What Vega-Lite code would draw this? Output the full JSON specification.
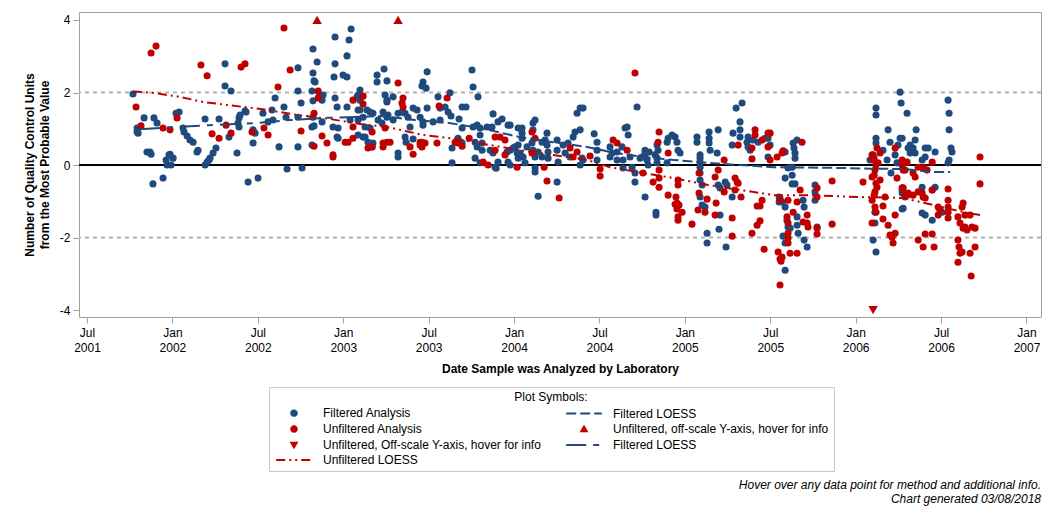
{
"$schema": "https://vega.github.io/schema/vega-lite/v6.json",
"width": 962,
"height": 305,
"autosize": {"type": "none"},
"padding": {"left": 79, "top": 12, "right": 15, "bottom": 201},
"background": "white",
"config": {
  "font": "Liberation Sans",
  "view": {"stroke": "#a0a0a0", "strokeWidth": 1},
  "axis": {"labelFont": "Liberation Sans", "labelFontSize": 12, "labelColor": "#000", "tickColor": "#a0a0a0", "domain": false, "grid": false, "titleFont": "Liberation Sans", "titleFontSize": 12, "titleFontWeight": "bold", "titleColor": "#000"}
},
"title": {"text": ["Hover over any data point for method and additional info.", "Chart generated 03/08/2018"], "orient": "bottom", "anchor": "end", "frame": "group", "fontSize": 12, "fontStyle": "italic", "fontWeight": "normal", "color": "#000", "font": "Liberation Sans", "offset": 8, "lineHeight": 14},
"datasets": {
"refs": [{"v": 2}, {"v": -2}],
"zero": [{"v": 0}],
"filtered": [
{"t":2001.769,"v":1.96},{"t":2001.793,"v":0.91},{"t":2001.793,"v":1.02},{"t":2001.799,"v":0.88},{"t":2001.834,"v":1.30},{"t":2001.851,"v":0.36},{"t":2001.869,"v":0.36},{"t":2001.875,"v":0.30},{"t":2001.886,"v":-0.52},{"t":2001.892,"v":1.30},{"t":2001.910,"v":1.16},{"t":2001.945,"v":-0.36},{"t":2001.963,"v":0.14},{"t":2001.968,"v":0.00},{"t":2001.986,"v":0.30},{"t":2001.992,"v":0.00},{"t":2002.004,"v":0.19},{"t":2001.980,"v":0.28},{"t":2002.021,"v":1.43},{"t":2002.039,"v":1.46},{"t":2002.062,"v":1.02},{"t":2002.068,"v":0.91},{"t":2002.086,"v":0.80},{"t":2002.103,"v":0.69},{"t":2002.121,"v":0.63},{"t":2002.144,"v":0.36},{"t":2002.150,"v":0.41},{"t":2002.191,"v":0.00},{"t":2002.203,"v":0.08},{"t":2002.214,"v":0.14},{"t":2002.220,"v":0.19},{"t":2002.238,"v":0.33},{"t":2002.255,"v":0.47},{"t":2002.191,"v":1.27},{"t":2002.273,"v":1.27},{"t":2002.308,"v":2.79},{"t":2002.308,"v":2.18},{"t":2002.331,"v":0.77},{"t":2002.343,"v":2.04},{"t":2002.378,"v":0.33},{"t":2002.390,"v":1.30},{"t":2002.390,"v":1.05},{"t":2002.396,"v":1.38},{"t":2002.384,"v":1.16},{"t":2002.425,"v":1.49},{"t":2002.431,"v":1.46},{"t":2002.443,"v":-0.47},{"t":2002.472,"v":0.61},{"t":2002.472,"v":0.97},{"t":2002.484,"v":0.88},{"t":2002.501,"v":-0.36},{"t":2002.530,"v":1.43},{"t":2002.560,"v":1.19},{"t":2002.589,"v":1.24},{"t":2002.583,"v":1.52},{"t":2002.601,"v":1.85},{"t":2002.624,"v":0.50},{"t":2002.653,"v":1.60},{"t":2002.665,"v":1.32},{"t":2002.671,"v":-0.11},{"t":2002.735,"v":2.04},{"t":2002.735,"v":2.68},{"t":2002.735,"v":0.50},{"t":2002.735,"v":1.32},{"t":2002.753,"v":1.71},{"t":2002.759,"v":-0.08},{"t":2002.817,"v":2.04},{"t":2002.817,"v":1.05},{"t":2002.817,"v":0.55},{"t":2002.823,"v":3.20},{"t":2002.823,"v":2.54},{"t":2002.823,"v":1.77},{"t":2002.823,"v":1.32},{"t":2002.829,"v":1.08},{"t":2002.829,"v":2.32},{"t":2002.835,"v":2.29},{"t":2002.847,"v":2.84},{"t":2002.858,"v":1.88},{"t":2002.876,"v":1.19},{"t":2002.876,"v":1.79},{"t":2002.882,"v":1.93},{"t":2002.952,"v":3.53},{"t":2002.952,"v":2.79},{"t":2002.946,"v":2.43},{"t":2002.952,"v":1.85},{"t":2002.964,"v":1.60},{"t":2002.940,"v":1.05},{"t":2002.964,"v":0.77},{"t":2002.970,"v":1.02},{"t":2002.970,"v":0.74},{"t":2003.022,"v":3.01},{"t":2003.034,"v":3.45},{"t":2003.046,"v":3.75},{"t":2002.999,"v":2.48},{"t":2003.022,"v":2.43},{"t":2003.022,"v":1.60},{"t":2003.040,"v":1.24},{"t":2003.081,"v":1.88},{"t":2003.087,"v":1.52},{"t":2003.087,"v":1.24},{"t":2003.087,"v":0.83},{"t":2003.128,"v":0.77},{"t":2003.145,"v":0.63},{"t":2003.098,"v":2.07},{"t":2003.087,"v":1.93},{"t":2003.098,"v":1.79},{"t":2003.098,"v":1.52},{"t":2003.116,"v":1.32},{"t":2003.116,"v":0.77},{"t":2003.139,"v":1.52},{"t":2003.157,"v":1.46},{"t":2003.128,"v":1.05},{"t":2003.157,"v":1.02},{"t":2003.174,"v":0.61},{"t":2003.169,"v":0.50},{"t":2003.198,"v":2.48},{"t":2003.198,"v":2.29},{"t":2003.174,"v":1.43},{"t":2003.204,"v":1.24},{"t":2003.233,"v":1.46},{"t":2003.245,"v":1.93},{"t":2003.256,"v":1.79},{"t":2003.239,"v":2.65},{"t":2003.256,"v":2.32},{"t":2003.256,"v":1.32},{"t":2003.227,"v":1.16},
{"t":2003.292,"v":1.88},{"t":2003.256,"v":1.74},{"t":2003.262,"v":1.38},{"t":2003.292,"v":1.24},{"t":2003.321,"v":1.43},{"t":2003.344,"v":1.46},{"t":2003.362,"v":1.43},{"t":2003.379,"v":1.32},{"t":2003.409,"v":1.57},{"t":2003.432,"v":1.52},{"t":2003.450,"v":1.32},{"t":2003.467,"v":1.19},{"t":2003.467,"v":1.10},{"t":2003.491,"v":1.57},{"t":2003.467,"v":2.29},{"t":2003.461,"v":2.18},{"t":2003.485,"v":2.12},{"t":2003.491,"v":2.57},{"t":2003.555,"v":1.88},{"t":2003.567,"v":1.57},{"t":2003.596,"v":1.60},{"t":2003.614,"v":1.46},{"t":2003.625,"v":1.99},{"t":2003.631,"v":1.35},{"t":2003.567,"v":1.24},{"t":2003.526,"v":1.19},{"t":2003.678,"v":1.27},{"t":2003.696,"v":1.60},{"t":2003.719,"v":1.60},{"t":2003.696,"v":1.02},{"t":2003.754,"v":2.62},{"t":2003.760,"v":2.15},{"t":2003.789,"v":1.88},{"t":2003.760,"v":1.05},{"t":2003.784,"v":1.10},{"t":2003.801,"v":1.02},{"t":2003.842,"v":1.05},{"t":2003.871,"v":1.05},{"t":2003.877,"v":1.41},{"t":2003.906,"v":1.19},{"t":2003.930,"v":1.27},{"t":2003.965,"v":1.10},{"t":2004.024,"v":1.02},{"t":2003.391,"v":1.05},{"t":2003.409,"v":0.72},{"t":2003.362,"v":0.77},{"t":2003.368,"v":0.63},{"t":2003.321,"v":0.33},{"t":2003.321,"v":0.22},{"t":2003.637,"v":0.47},{"t":2003.637,"v":0.06},{"t":2003.672,"v":0.74},{"t":2003.696,"v":0.61},{"t":2003.772,"v":0.63},{"t":2003.784,"v":0.50},{"t":2003.801,"v":0.83},{"t":2003.813,"v":0.61},{"t":2003.813,"v":0.41},{"t":2003.772,"v":0.19},{"t":2003.860,"v":0.41},{"t":2003.877,"v":0.33},{"t":2003.801,"v":0.06},{"t":2003.906,"v":0.08},{"t":2003.889,"v":-0.06},{"t":2003.895,"v":-0.09},{"t":2003.959,"v":0.36},{"t":2003.965,"v":0.08},{"t":2003.977,"v":0.00},{"t":2004.006,"v":0.50},{"t":2004.018,"v":0.33},{"t":2004.024,"v":0.19},{"t":2003.461,"v":0.63},
{"t":2003.977,"v":1.10},{"t":2004.047,"v":1.02},{"t":2004.047,"v":0.88},{"t":2003.977,"v":0.41},{"t":2003.994,"v":0.47},{"t":2004.024,"v":0.55},{"t":2004.035,"v":0.33},{"t":2004.053,"v":0.22},{"t":2004.047,"v":0.74},{"t":2004.076,"v":0.50},{"t":2004.064,"v":0.06},{"t":2004.105,"v":0.61},{"t":2004.111,"v":1.16},{"t":2004.123,"v":1.24},{"t":2004.111,"v":0.97},{"t":2004.111,"v":0.41},{"t":2004.123,"v":0.22},{"t":2004.123,"v":-0.08},{"t":2004.123,"v":-0.19},{"t":2004.141,"v":0.36},{"t":2004.164,"v":0.22},{"t":2004.164,"v":0.63},{"t":2004.182,"v":0.69},{"t":2004.193,"v":0.88},{"t":2004.193,"v":0.55},{"t":2004.199,"v":0.36},{"t":2004.199,"v":0.19},{"t":2004.252,"v":0.69},{"t":2004.252,"v":0.41},{"t":2004.258,"v":0.08},{"t":2004.252,"v":-0.47},{"t":2004.287,"v":0.55},{"t":2004.299,"v":0.33},{"t":2004.316,"v":0.61},{"t":2004.328,"v":0.22},{"t":2004.346,"v":0.77},{"t":2004.357,"v":0.91},{"t":2004.369,"v":1.43},{"t":2004.387,"v":1.57},{"t":2004.404,"v":1.57},{"t":2004.387,"v":0.97},{"t":2004.398,"v":0.19},{"t":2004.387,"v":0.00},{"t":2004.404,"v":0.14},{"t":2004.469,"v":0.86},{"t":2004.486,"v":0.63},{"t":2004.486,"v":0.41},{"t":2004.486,"v":0.14},{"t":2004.562,"v":0.50},{"t":2004.574,"v":0.33},{"t":2004.562,"v":0.22},{"t":2004.603,"v":0.36},{"t":2004.603,"v":0.14},{"t":2004.632,"v":0.50},{"t":2004.638,"v":0.14},{"t":2004.638,"v":-0.08},{"t":2004.650,"v":1.02},{"t":2004.662,"v":1.05},{"t":2004.668,"v":0.83},{"t":2004.679,"v":0.22},{"t":2004.691,"v":-0.06},{"t":2004.708,"v":-0.22},{"t":2004.708,"v":-0.47},{"t":2004.767,"v":0.33},{"t":2004.779,"v":0.14},{"t":2004.767,"v":-0.88},{"t":2004.720,"v":1.60},{"t":2004.785,"v":0.00},{"t":2004.750,"v":0.22},{"t":2004.791,"v":0.36},{"t":2004.141,"v":-0.86},
{"t":2004.767,"v":0.41},{"t":2004.767,"v":0.28},{"t":2004.738,"v":0.19},{"t":2004.837,"v":0.55},{"t":2004.843,"v":0.41},{"t":2004.826,"v":0.28},{"t":2004.837,"v":0.19},{"t":2004.837,"v":0.06},{"t":2004.831,"v":-1.30},{"t":2004.831,"v":-1.38},{"t":2004.896,"v":0.63},{"t":2004.902,"v":0.74},{"t":2004.925,"v":0.83},{"t":2004.943,"v":0.77},{"t":2004.954,"v":0.63},{"t":2004.960,"v":0.41},{"t":2004.972,"v":0.33},{"t":2004.896,"v":0.06},{"t":2005.071,"v":0.77},{"t":2005.071,"v":0.63},{"t":2005.089,"v":0.28},{"t":2005.089,"v":0.19},{"t":2005.089,"v":0.08},{"t":2005.089,"v":-0.06},{"t":2005.089,"v":-0.22},{"t":2005.089,"v":-0.41},{"t":2005.101,"v":-0.55},{"t":2005.089,"v":-0.88},{"t":2005.101,"v":-1.10},{"t":2005.118,"v":-1.16},{"t":2005.130,"v":-1.88},{"t":2005.130,"v":-2.15},{"t":2005.142,"v":0.91},{"t":2005.142,"v":0.74},{"t":2005.142,"v":0.61},{"t":2005.148,"v":0.41},{"t":2005.195,"v":0.97},{"t":2005.189,"v":0.33},{"t":2005.195,"v":-0.55},{"t":2005.206,"v":-0.63},{"t":2005.206,"v":-1.38},{"t":2005.200,"v":-1.77},{"t":2005.236,"v":-0.47},{"t":2005.247,"v":-0.55},{"t":2005.277,"v":-0.88},{"t":2005.241,"v":-2.26},{"t":2005.277,"v":0.55},{"t":2005.282,"v":0.88},{"t":2005.300,"v":1.57},{"t":2005.335,"v":1.71},{"t":2005.323,"v":1.19},{"t":2005.323,"v":0.97},{"t":2005.323,"v":0.77},{"t":2005.364,"v":0.63},{"t":2005.370,"v":0.77},{"t":2005.370,"v":0.50},{"t":2005.382,"v":0.41},{"t":2005.399,"v":0.69},{"t":2005.429,"v":0.63},{"t":2005.470,"v":0.74},{"t":2005.487,"v":0.74},{"t":2005.487,"v":0.22},{"t":2005.552,"v":-0.88},{"t":2005.552,"v":-1.02},
{"t":2005.499,"v":0.55},{"t":2005.587,"v":0.36},{"t":2005.587,"v":-0.36},{"t":2005.604,"v":-0.08},{"t":2005.628,"v":-0.06},{"t":2005.628,"v":-0.28},{"t":2005.628,"v":-0.52},{"t":2005.645,"v":-0.52},{"t":2005.634,"v":0.61},{"t":2005.639,"v":0.47},{"t":2005.645,"v":0.33},{"t":2005.645,"v":0.19},{"t":2005.657,"v":0.69},{"t":2005.557,"v":-0.91},{"t":2005.569,"v":-1.02},{"t":2005.587,"v":-1.16},{"t":2005.598,"v":-1.52},{"t":2005.604,"v":-1.71},{"t":2005.575,"v":-1.96},{"t":2005.587,"v":-2.15},{"t":2005.616,"v":-1.74},{"t":2005.657,"v":-1.43},{"t":2005.657,"v":-1.66},{"t":2005.663,"v":-1.88},{"t":2005.692,"v":-0.97},{"t":2005.698,"v":-1.16},{"t":2005.698,"v":-2.07},{"t":2005.716,"v":-2.26},{"t":2005.762,"v":-0.55},{"t":2005.762,"v":-0.74},{"t":2005.762,"v":-0.97},{"t":2005.774,"v":-1.71},{"t":2005.587,"v":-2.90},
{"t":2006.084,"v":0.14},{"t":2006.119,"v":1.57},{"t":2006.119,"v":1.38},{"t":2006.119,"v":0.74},{"t":2006.119,"v":0.61},{"t":2006.102,"v":0.28},{"t":2006.113,"v":-1.30},{"t":2006.113,"v":-1.60},{"t":2006.102,"v":-2.07},{"t":2006.119,"v":-2.40},{"t":2006.160,"v":0.41},{"t":2006.190,"v":0.97},{"t":2006.201,"v":0.63},{"t":2006.184,"v":0.14},{"t":2006.207,"v":-0.22},{"t":2006.248,"v":0.55},{"t":2006.260,"v":0.74},{"t":2006.231,"v":0.28},{"t":2006.242,"v":0.06},{"t":2006.301,"v":1.43},{"t":2006.266,"v":1.71},{"t":2006.260,"v":2.01},{"t":2006.272,"v":-0.77},{"t":2006.289,"v":-0.88},{"t":2006.278,"v":-1.19},{"t":2006.307,"v":0.47},{"t":2006.354,"v":0.97},{"t":2006.272,"v":0.74},{"t":2006.319,"v":0.55},{"t":2006.336,"v":0.47},{"t":2006.319,"v":0.33},{"t":2006.348,"v":0.33},{"t":2006.407,"v":0.47},{"t":2006.424,"v":0.47},{"t":2006.465,"v":0.36},{"t":2006.389,"v":0.14},{"t":2006.407,"v":0.22},{"t":2006.541,"v":1.79},{"t":2006.547,"v":1.43},{"t":2006.547,"v":0.97},{"t":2006.558,"v":0.47},{"t":2006.564,"v":0.36},{"t":2006.547,"v":0.14},{"t":2006.541,"v":0.06},{"t":2006.272,"v":-0.69},{"t":2006.272,"v":-1.21},{"t":2006.389,"v":-0.61},{"t":2006.465,"v":-0.61},{"t":2006.448,"v":-0.69},{"t":2006.389,"v":-1.32},{"t":2006.407,"v":-1.38},{"t":2006.448,"v":-1.52},{"t":2006.494,"v":-1.24},{"t":2006.506,"v":-1.30},{"t":2006.348,"v":0.69}
],
"unfiltered": [
{"t":2001.787,"v":1.60},{"t":2001.816,"v":1.08},{"t":2001.875,"v":3.09},{"t":2001.904,"v":3.28},{"t":2001.945,"v":1.02},{"t":2001.986,"v":0.97},{"t":2002.027,"v":1.30},{"t":2002.167,"v":2.76},{"t":2002.203,"v":2.46},{"t":2002.232,"v":0.86},{"t":2002.273,"v":0.74},{"t":2002.314,"v":1.10},{"t":2002.343,"v":0.88},{"t":2002.402,"v":2.70},{"t":2002.425,"v":2.79},{"t":2002.466,"v":0.91},{"t":2002.536,"v":1.02},{"t":2002.560,"v":0.83},{"t":2002.618,"v":2.15},{"t":2002.653,"v":3.78},{"t":2002.689,"v":2.62},{"t":2002.753,"v":0.94},{"t":2002.829,"v":1.43},{"t":2002.829,"v":0.52},{"t":2002.853,"v":2.04},{"t":2002.853,"v":1.85},{"t":2002.876,"v":0.80},{"t":2002.905,"v":0.61},{"t":2002.940,"v":0.22},{"t":2002.940,"v":0.28},{"t":2003.011,"v":0.63},{"t":2003.028,"v":0.63},{"t":2003.057,"v":1.79},{"t":2003.057,"v":1.05},{"t":2003.057,"v":0.74},{"t":2003.116,"v":1.90},{"t":2003.116,"v":1.68},{"t":2003.169,"v":0.91},{"t":2003.145,"v":0.47},{"t":2003.169,"v":0.50},{"t":2003.233,"v":0.61},{"t":2003.245,"v":1.02},{"t":2003.256,"v":0.63},
{"t":2003.321,"v":2.26},{"t":2003.350,"v":1.85},{"t":2003.344,"v":1.71},{"t":2003.350,"v":1.60},{"t":2003.274,"v":0.63},{"t":2003.233,"v":0.50},{"t":2003.391,"v":0.50},{"t":2003.409,"v":0.30},{"t":2003.450,"v":0.63},{"t":2003.450,"v":0.55},{"t":2003.461,"v":0.50},{"t":2003.479,"v":0.61},{"t":2003.549,"v":0.61},{"t":2003.561,"v":1.63},{"t":2003.608,"v":1.85},{"t":2003.655,"v":0.63},{"t":2003.672,"v":0.61},{"t":2003.696,"v":0.52},{"t":2003.737,"v":0.74},{"t":2003.889,"v":0.77},{"t":2003.889,"v":0.41},{"t":2003.918,"v":0.77},{"t":2003.947,"v":0.69},{"t":2003.947,"v":0.28},{"t":2003.819,"v":0.08},{"t":2003.848,"v":0.00},{"t":2004.018,"v":-0.06},
{"t":2004.105,"v":0.91},{"t":2004.123,"v":0.74},{"t":2004.105,"v":0.33},{"t":2004.176,"v":-0.06},{"t":2004.193,"v":-0.44},{"t":2004.264,"v":-0.91},{"t":2004.328,"v":0.47},{"t":2004.346,"v":0.22},{"t":2004.369,"v":0.36},{"t":2004.445,"v":0.25},{"t":2004.504,"v":-0.11},{"t":2004.504,"v":-0.30},{"t":2004.580,"v":0.69},{"t":2004.603,"v":0.61},{"t":2004.662,"v":0.41},{"t":2004.708,"v":2.54},{"t":2004.755,"v":-0.22},
{"t":2004.849,"v":0.91},{"t":2004.843,"v":0.63},{"t":2004.902,"v":0.33},{"t":2004.814,"v":-0.47},{"t":2004.849,"v":-0.14},{"t":2004.849,"v":-0.36},{"t":2004.849,"v":-0.61},{"t":2004.902,"v":-0.83},{"t":2004.948,"v":-0.88},{"t":2004.954,"v":-1.05},{"t":2004.943,"v":-1.08},{"t":2004.966,"v":-1.10},{"t":2004.954,"v":-1.21},{"t":2004.960,"v":-1.43},{"t":2004.960,"v":-1.52},{"t":2004.960,"v":-0.41},{"t":2004.960,"v":-0.55},{"t":2004.984,"v":-1.30},{"t":2005.042,"v":-1.63},{"t":2005.083,"v":-0.22},{"t":2005.083,"v":-0.77},{"t":2005.077,"v":-1.24},{"t":2005.118,"v":-1.30},{"t":2005.130,"v":-0.94},{"t":2005.183,"v":-1.05},{"t":2005.177,"v":-0.33},{"t":2005.195,"v":-0.14},{"t":2005.230,"v":0.14},{"t":2005.230,"v":-0.74},{"t":2005.177,"v":-1.38},{"t":2005.277,"v":-1.46},{"t":2005.277,"v":-1.96},{"t":2005.294,"v":-0.36},{"t":2005.306,"v":-0.47},{"t":2005.312,"v":-0.50},{"t":2005.294,"v":-0.69},{"t":2005.329,"v":-0.88},{"t":2005.312,"v":0.55},{"t":2005.393,"v":-1.88},{"t":2005.411,"v":0.97},{"t":2005.411,"v":0.83},{"t":2005.393,"v":0.47},{"t":2005.393,"v":0.17},{"t":2005.452,"v":0.69},{"t":2005.487,"v":0.88},{"t":2005.487,"v":0.50},{"t":2005.499,"v":0.14},{"t":2005.452,"v":-0.97},{"t":2005.423,"v":-1.13},{"t":2005.440,"v":-1.13},{"t":2005.423,"v":-1.66},{"t":2005.440,"v":-1.54},{"t":2005.464,"v":-2.32},{"t":2005.540,"v":0.22},{"t":2005.546,"v":-2.40},{"t":2005.557,"v":-2.59},{"t":2005.557,"v":-3.31},
{"t":2005.499,"v":0.88},{"t":2005.569,"v":0.33},{"t":2005.575,"v":0.39},{"t":2005.686,"v":0.63},{"t":2005.557,"v":-0.97},{"t":2005.569,"v":-2.54},{"t":2005.563,"v":-2.65},{"t":2005.598,"v":-1.43},{"t":2005.604,"v":-1.60},{"t":2005.604,"v":-1.88},{"t":2005.604,"v":-2.01},{"t":2005.604,"v":-2.15},{"t":2005.616,"v":-2.43},{"t":2005.657,"v":-2.43},{"t":2005.604,"v":-0.97},{"t":2005.634,"v":-1.30},{"t":2005.657,"v":-1.02},{"t":2005.675,"v":-0.69},{"t":2005.692,"v":-1.57},{"t":2005.716,"v":-1.38},{"t":2005.716,"v":-1.60},{"t":2005.721,"v":-1.71},{"t":2005.774,"v":-0.63},{"t":2005.774,"v":-0.88},{"t":2005.774,"v":-1.74},{"t":2005.774,"v":-1.90},{"t":2005.862,"v":-0.44},{"t":2005.862,"v":-1.63},
{"t":2006.043,"v":-0.47},{"t":2006.096,"v":0.28},{"t":2006.102,"v":0.14},{"t":2006.113,"v":-0.14},{"t":2006.096,"v":-0.33},{"t":2006.125,"v":-0.61},{"t":2006.096,"v":-0.97},{"t":2006.113,"v":-1.16},{"t":2006.096,"v":-1.60},{"t":2006.143,"v":0.33},{"t":2006.125,"v":0.47},{"t":2006.131,"v":0.06},{"t":2006.143,"v":-0.41},{"t":2006.113,"v":-0.74},{"t":2006.160,"v":-1.13},{"t":2006.172,"v":-0.88},{"t":2006.160,"v":-1.49},{"t":2006.190,"v":-1.66},{"t":2006.231,"v":0.47},{"t":2006.242,"v":-0.36},{"t":2006.231,"v":-1.38},{"t":2006.231,"v":-1.88},{"t":2006.213,"v":-1.99},{"t":2006.219,"v":-2.15},{"t":2006.201,"v":-1.93},{"t":2006.272,"v":-0.63},{"t":2006.272,"v":0.14},{"t":2006.278,"v":-0.14},{"t":2006.301,"v":0.08},{"t":2006.301,"v":-0.83},{"t":2006.108,"v":0.19},{"t":2006.119,"v":0.00},{"t":2006.108,"v":-0.28},{"t":2006.119,"v":-0.50},{"t":2006.108,"v":-0.83},{"t":2006.119,"v":-1.30},
{"t":2006.272,"v":0.00},{"t":2006.289,"v":-0.14},{"t":2006.336,"v":-0.22},{"t":2006.348,"v":-0.33},{"t":2006.366,"v":-0.06},{"t":2006.395,"v":-0.06},{"t":2006.418,"v":-0.14},{"t":2006.448,"v":0.08},{"t":2006.278,"v":-0.63},{"t":2006.289,"v":-0.83},{"t":2006.307,"v":-0.77},{"t":2006.336,"v":-0.83},{"t":2006.366,"v":-0.74},{"t":2006.389,"v":-0.77},{"t":2006.395,"v":-0.88},{"t":2006.407,"v":-0.91},{"t":2006.448,"v":-0.69},{"t":2006.483,"v":-1.16},{"t":2006.494,"v":-1.24},{"t":2006.483,"v":-1.38},{"t":2006.541,"v":-0.66},{"t":2006.541,"v":-0.97},{"t":2006.541,"v":-1.16},{"t":2006.541,"v":-1.30},{"t":2006.541,"v":-1.46},{"t":2006.407,"v":-1.90},{"t":2006.448,"v":-1.90},{"t":2006.366,"v":-2.07},{"t":2006.395,"v":-2.26},{"t":2006.459,"v":-2.26},{"t":2006.599,"v":-1.43},{"t":2006.611,"v":-1.60},{"t":2006.623,"v":-1.16},{"t":2006.629,"v":-1.05},{"t":2006.640,"v":-1.38},{"t":2006.640,"v":-1.71},{"t":2006.652,"v":-1.79},{"t":2006.670,"v":-1.38},{"t":2006.681,"v":-1.71},{"t":2006.699,"v":-1.74},{"t":2006.629,"v":-1.74},{"t":2006.599,"v":-2.07},{"t":2006.605,"v":-2.26},{"t":2006.611,"v":-2.43},{"t":2006.623,"v":-2.40},{"t":2006.599,"v":-2.68},{"t":2006.670,"v":-2.43},{"t":2006.699,"v":-2.26},{"t":2006.676,"v":-3.06},{"t":2006.728,"v":0.22},{"t":2006.728,"v":-0.52}
],
"offUp": [{"t":2002.847,"v":4},{"t":2003.321,"v":4}],
"offDown": [{"t":2006.102,"v":-4}],
"loessU": [{"t":2001.769,"v":2.03},{"t":2001.886,"v":1.99},{"t":2002.045,"v":1.88},{"t":2002.179,"v":1.74},{"t":2002.279,"v":1.68},{"t":2002.472,"v":1.57},{"t":2002.530,"v":1.54},{"t":2002.729,"v":1.38},{"t":2002.923,"v":1.27},{"t":2003.098,"v":1.13},{"t":2003.256,"v":1.05},{"t":2003.467,"v":0.83},{"t":2003.666,"v":0.72},{"t":2003.860,"v":0.55},{"t":2004.035,"v":0.41},{"t":2004.228,"v":0.28},{"t":2004.428,"v":0.14},{"t":2004.562,"v":-0.06},{"t":2004.755,"v":-0.22},{"t":2004.937,"v":-0.36},{"t":2005.136,"v":-0.55},{"t":2005.329,"v":-0.69},{"t":2005.522,"v":-0.83},{"t":2005.710,"v":-0.83},{"t":2006.002,"v":-0.88},{"t":2006.278,"v":-0.91},{"t":2006.453,"v":-1.10},{"t":2006.652,"v":-1.32},{"t":2006.728,"v":-1.38}],
"loessF2": [{"t":2001.810,"v":0.99},{"t":2002.027,"v":1.05},{"t":2002.220,"v":1.10},{"t":2002.495,"v":1.16},{"t":2002.689,"v":1.24},{"t":2002.888,"v":1.30},{"t":2003.040,"v":1.32}],
"loessF": [{"t":2003.040,"v":1.32},{"t":2003.227,"v":1.35},{"t":2003.420,"v":1.24},{"t":2003.619,"v":1.16},{"t":2003.801,"v":1.02},{"t":2004.035,"v":0.77},{"t":2004.228,"v":0.63},{"t":2004.428,"v":0.50},{"t":2004.562,"v":0.36},{"t":2004.755,"v":0.22},{"t":2004.937,"v":0.14},{"t":2005.136,"v":0.06},{"t":2005.323,"v":0.00},{"t":2005.516,"v":-0.06},{"t":2005.710,"v":-0.07},{"t":2005.903,"v":-0.08},{"t":2006.096,"v":-0.10},{"t":2006.278,"v":-0.11},{"t":2006.453,"v":-0.19},{"t":2006.553,"v":-0.19}]
},
"layer": [
{"data": {"name": "refs"}, "mark": {"type": "rule", "color": "#b4b4b4", "strokeDash": [4, 4], "strokeWidth": 2},
 "encoding": {"y": {"field": "v", "type": "quantitative",
   "scale": {"domain": [-4.19, 4.22], "nice": false, "zero": false},
   "axis": {"title": ["Number of Quality Control Units", "from the Most Probable Value"], "values": [-4,-3,-2,-1,0,1,2,3,4], "labelExpr": "'' + datum.value", "tickSize": 6, "labelPadding": 3, "titlePadding": 8, "titleLineHeight": 15}}}},
{"data": {"name": "zero"}, "mark": {"type": "rule", "color": "#000", "strokeWidth": 2},
 "encoding": {"y": {"field": "v", "type": "quantitative"}}},
{"data": {"name": "filtered"}, "mark": {"type": "point", "filled": true, "size": 50, "opacity": 1, "strokeWidth": 0},
 "encoding": {
  "x": {"field": "t", "type": "quantitative",
    "scale": {"domain": [2001.453, 2007.085], "nice": false, "zero": false},
    "axis": {"title": "Date Sample was Analyzed by Laboratory", "values": [2001.5,2002,2002.5,2003,2003.5,2004,2004.5,2005,2005.5,2006,2006.5,2007], "labelExpr": "[datum.value % 1 == 0 ? 'Jan' : 'Jul', '' + floor(datum.value)]", "labelLineHeight": 15, "tickSize": 6, "labelPadding": 4, "titlePadding": 10, "labelOverlap": false, "labelFlush": false}},
  "y": {"field": "v", "type": "quantitative"},
  "color": {"datum": "Filtered Analysis", "type": "nominal",
    "scale": {"domain": ["Filtered Analysis", "Unfiltered Analysis", "Unfiltered, Off-scale Y-axis, hover for info", "Unfiltered LOESS", "Filtered LOESS", "Unfiltered, off-scale Y-axis, hover for info", "Filtered LOESS (2)"],
              "range": ["#1f4a7d", "#c00000", "#c00000", "#c00000", "#1f4a7d", "#c00000", "#1f4a7d"]},
    "legend": {"title": "Plot Symbols:", "orient": "none", "legendX": 190, "legendY": 375, "columns": 2, "columnPadding": 20, "rowPadding": 2,
      "titleAnchor": "middle", "titleFontWeight": "normal", "titleFontSize": 12, "titleColor": "#000", "titleFont": "Liberation Sans", "titlePadding": 3,
      "labelFont": "Liberation Sans", "labelFontSize": 12, "labelColor": "#000", "labelLimit": 400, "labelOffset": 23,
      "symbolSize": 30, "symbolOffset": 14, "symbolStrokeWidth": 2, "padding": 5, "strokeColor": "#c8c8c8", "fillColor": "white",
      "labelExpr": "replace(datum.label, ' (2)', '')"}},
  "shape": {"datum": "Filtered Analysis", "type": "nominal",
    "scale": {"domain": ["Filtered Analysis", "Unfiltered Analysis", "Unfiltered, Off-scale Y-axis, hover for info", "Unfiltered LOESS", "Filtered LOESS", "Unfiltered, off-scale Y-axis, hover for info", "Filtered LOESS (2)"],
              "range": ["circle", "circle", "triangle-down", "M-6.5,0H6.5", "M-6.5,0H6.5", "triangle-up", "M-6.5,0H6.5"]}}}},
{"data": {"name": "unfiltered"}, "mark": {"type": "point", "filled": true, "size": 50, "opacity": 1, "strokeWidth": 0},
 "encoding": {"x": {"field": "t", "type": "quantitative"}, "y": {"field": "v", "type": "quantitative"},
  "color": {"datum": "Unfiltered Analysis", "type": "nominal"},
  "shape": {"datum": "Unfiltered Analysis", "type": "nominal"}}},
{"data": {"name": "loessU"}, "mark": {"type": "line", "strokeWidth": 2},
 "encoding": {"x": {"field": "t", "type": "quantitative"}, "y": {"field": "v", "type": "quantitative"},
  "color": {"datum": "Unfiltered LOESS", "type": "nominal"},
  "strokeDash": {"datum": "Unfiltered LOESS", "type": "nominal",
    "scale": {"domain": ["Filtered Analysis", "Unfiltered Analysis", "Unfiltered, Off-scale Y-axis, hover for info", "Unfiltered LOESS", "Filtered LOESS", "Unfiltered, off-scale Y-axis, hover for info", "Filtered LOESS (2)"],
              "range": [[1, 0], [1, 0], [1, 0], [9, 4, 2, 4, 2, 4], [10, 4], [1, 0], [20, 7, 6, 7]]}}}},
{"data": {"name": "loessF2"}, "mark": {"type": "line", "strokeWidth": 2},
 "encoding": {"x": {"field": "t", "type": "quantitative"}, "y": {"field": "v", "type": "quantitative"},
  "color": {"datum": "Filtered LOESS (2)", "type": "nominal"},
  "strokeDash": {"datum": "Filtered LOESS (2)", "type": "nominal"}}},
{"data": {"name": "loessF"}, "mark": {"type": "line", "strokeWidth": 2},
 "encoding": {"x": {"field": "t", "type": "quantitative"}, "y": {"field": "v", "type": "quantitative"},
  "color": {"datum": "Filtered LOESS", "type": "nominal"},
  "strokeDash": {"datum": "Filtered LOESS", "type": "nominal"}}},
{"data": {"name": "offUp"}, "mark": {"type": "point", "filled": true, "size": 90, "opacity": 1, "strokeWidth": 0},
 "encoding": {"x": {"field": "t", "type": "quantitative"}, "y": {"field": "v", "type": "quantitative"},
  "color": {"datum": "Unfiltered, off-scale Y-axis, hover for info", "type": "nominal"},
  "shape": {"datum": "Unfiltered, off-scale Y-axis, hover for info", "type": "nominal"}}},
{"data": {"name": "offDown"}, "mark": {"type": "point", "filled": true, "size": 90, "opacity": 1, "strokeWidth": 0},
 "encoding": {"x": {"field": "t", "type": "quantitative"}, "y": {"field": "v", "type": "quantitative"},
  "color": {"datum": "Unfiltered, Off-scale Y-axis, hover for info", "type": "nominal"},
  "shape": {"datum": "Unfiltered, Off-scale Y-axis, hover for info", "type": "nominal"}}}
]
}
